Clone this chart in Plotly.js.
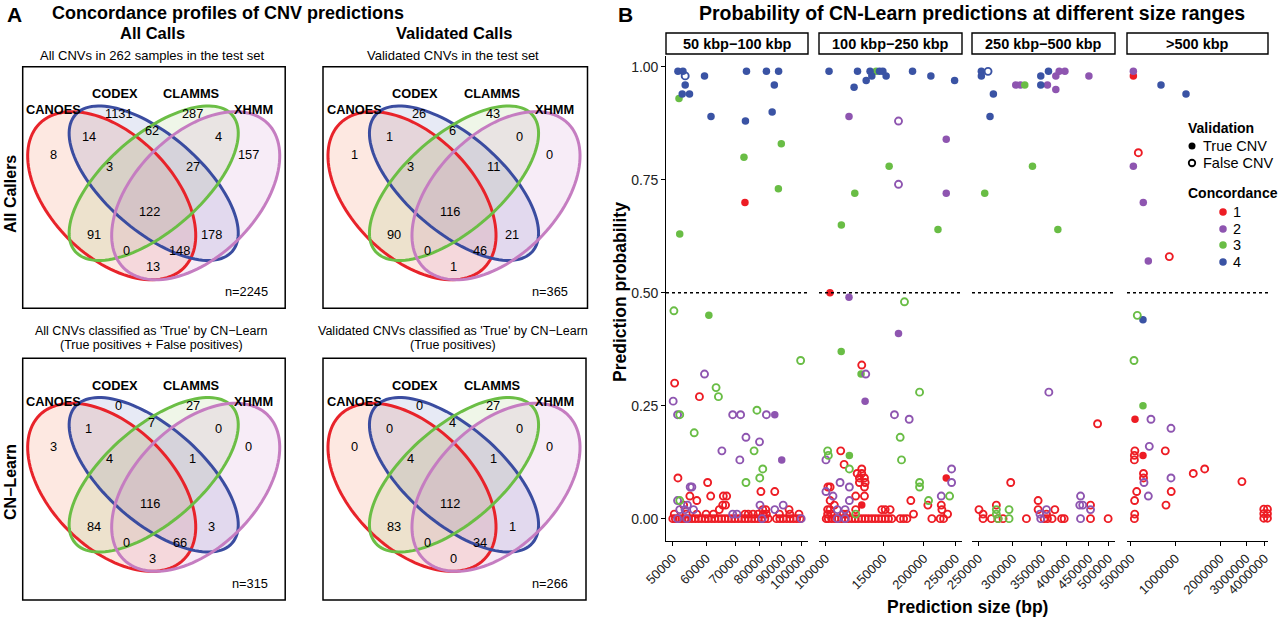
<!DOCTYPE html>
<html>
<head>
<meta charset="utf-8">
<script src="https://cdn.plot.ly/plotly-3.0.1.min.js"></script>
<style>
  html, body { margin: 0; padding: 0; background: #fff; }
  #chart { width: 1280px; height: 621px; }
</style>
</head>
<body>
<div id="chart"></div>
<script>
// ---------------- Panel A: four-caller concordance (Venn region counts) ----------------
const callers = ['CANOES', 'CODEX', 'CLAMMS', 'XHMM'];
// Region order: A, B, C, D, AB, BC, CD, ABC, BCD, ABCD, AC, BD, ACD, ABD, AD
// (A = CANOES, B = CODEX, C = CLAMMS, D = XHMM)
const regionKeys = ['A', 'B', 'C', 'D', 'AB', 'BC', 'CD', 'ABC', 'BCD', 'ABCD', 'AC', 'BD', 'ACD', 'ABD', 'AD'];
const countsAllCalls        = [8, 1131, 287, 157, 14, 62, 4, 3, 27, 122, 91, 178, 0, 148, 13];
const countsValidatedCalls  = [1, 26, 43, 0, 1, 6, 0, 3, 11, 116, 90, 21, 0, 46, 1];
const countsCNLearnAll      = [3, 0, 27, 0, 1, 7, 0, 4, 1, 116, 84, 3, 0, 66, 3];
const countsCNLearnValid    = [0, 0, 27, 0, 0, 4, 0, 4, 1, 112, 83, 1, 0, 34, 0];

const vennTitles = ['All Calls', 'Validated Calls', '', ''];
const vennSubtitles = [
  ['All CNVs in 262 samples in the test set'],
  ['Validated CNVs in the test set'],
  ['All CNVs classified as \'True\' by CN\u2212Learn', '(True positives + False positives)'],
  ['Validated CNVs classified as \'True\' by CN\u2212Learn', '(True positives)']
];
const rowLabels = ['All Callers', 'CN\u2212Learn'];

// ---------------- Panel B: CN-Learn prediction probability by size range ----------------
// each row: [size (bp), prediction probability, concordance (1-4), validated (1 = true CNV, 0 = false CNV)]
const calls50to100kb = [
  [51500,0.99,4,1],[52900,0.99,4,1],[53550,0.98,4,0],[53550,0.96,4,1],[52700,0.94,4,1],[54800,0.94,4,1],
  [59400,0.98,4,1],[61500,0.89,4,1],[74400,0.99,4,1],[74000,0.88,4,1],[82800,0.99,4,1],[88400,0.99,4,1],
  [86400,0.96,4,1],[85400,0.90,4,1],
  [51800,0.93,3,1],[73400,0.80,3,1],[89700,0.83,3,1],[88300,0.73,3,1],[73800,0.70,1,1],[52000,0.63,3,1],
  [50400,0.46,3,0],[60800,0.45,3,1],[99500,0.35,3,0],
  [59400,0.32,2,0],[50600,0.30,1,0],[63200,0.29,3,0],[64000,0.27,3,0],[57800,0.27,1,0],[50200,0.26,2,0],
  [51400,0.23,2,0],[52000,0.23,3,0],[69100,0.23,2,0],[72100,0.23,2,0],[78700,0.24,3,0],[82800,0.23,2,0],
  [86600,0.23,2,1],[56200,0.19,3,0],[74200,0.18,2,0],[79800,0.17,2,0],[77500,0.15,3,0],[65200,0.15,2,0],
  [71800,0.13,2,0],[89900,0.13,2,1],[81200,0.11,3,0],[79900,0.09,3,0],[51500,0.09,1,0],[74200,0.08,3,0],
  [60400,0.08,1,0],[55000,0.07,2,0],[55500,0.07,2,0],[54900,0.05,1,0],[61400,0.05,1,0],[65700,0.05,1,0],
  [66900,0.05,1,0],[80400,0.06,1,0],[86600,0.06,1,0],[65500,0.03,1,0],[66500,0.03,1,0],[57000,0.04,1,0],
  [51400,0.04,2,0],[52000,0.04,3,0],[53100,0.03,1,0],[54200,0.03,2,0],[82500,0.02,1,0],[81200,0.02,1,0],
  [80000,0.03,2,0],[90600,0.03,2,0],[93500,0.02,1,0],[64300,0.02,1,0],[69100,0.01,2,0],[70700,0.01,2,0],
  [88800,0.01,1,0],[93900,0.01,1,0],[98600,0.01,1,0],[99800,0.00,2,0],
  [50500,0.01,1,0],[53850,0.01,1,0],[57000,0.01,1,0],[59900,0.01,1,0],[62300,0.01,1,0],[73800,0.01,1,0],
  [75100,0.01,1,0],[77100,0.01,1,0],[79200,0.01,1,0],[81400,0.01,1,0],[82800,0.01,1,0],
  [52000,0.02,2,0],[53500,0.02,2,0],[56000,0.02,2,0],[51400,0.00,2,0],[54000,0.00,2,0],[80900,0.00,2,0],
  [86600,0.02,2,0],
  [50100,0,1,0],[50800,0,1,0],[51700,0,1,0],[52600,0,1,0],[53500,0,1,0],[54500,0,1,0],[55500,0,1,0],
  [56500,0,1,0],[57500,0,1,0],[58500,0,1,0],[59600,0,1,0],[60600,0,1,0],[61700,0,1,0],[62800,0,1,0],
  [64000,0,1,0],[65100,0,1,0],[66300,0,1,0],[67500,0,1,0],[68700,0,1,0],[69900,0,1,0],[71200,0,1,0],
  [72500,0,1,0],[73800,0,1,0],[75100,0,1,0],[76500,0,1,0],[77800,0,1,0],[79200,0,1,0],[80700,0,1,0],
  [82100,0,1,0],[83600,0,1,0],[87400,0,1,0],[89000,0,1,0],[90600,0,1,0],[92300,0,1,0],[94000,0,1,0],
  [95700,0,1,0],[97400,0,1,0],[99200,0,1,0]
];

const calls100to250kb = [
  [102500,0.99,4,1],[125300,0.99,4,1],[136900,0.99,4,1],[142900,0.99,3,1],[146300,0.99,4,1],[149800,0.99,4,1],
  [184700,0.99,4,1],[210200,0.98,4,1],[248500,0.97,4,1],[133200,0.97,4,1],[138600,0.98,4,1],[153300,0.98,4,1],
  [122300,0.955,4,1],[118000,0.89,2,1],[167300,0.88,2,0],[234300,0.84,2,1],[156600,0.78,3,1],[167300,0.74,2,0],
  [122900,0.72,3,1],[234300,0.72,2,1],[111800,0.65,3,1],[221000,0.64,3,1],[103200,0.50,1,1],[118000,0.49,2,1],
  [174500,0.48,3,0],[167300,0.41,2,1],[111700,0.37,3,1],[129100,0.34,1,0],[128500,0.32,3,1],[132800,0.32,2,0],
  [194100,0.28,3,0],[132200,0.26,2,1],[162600,0.23,2,0],[180400,0.22,2,0],[169300,0.18,3,0],[101500,0.15,3,0],
  [102000,0.14,3,0],[100300,0.13,2,0],[111300,0.15,1,0],[118300,0.14,3,1],[170900,0.13,3,0],[114000,0.12,1,0],
  [118300,0.11,3,0],[129100,0.11,1,0],[129100,0.10,1,0],[125000,0.10,1,0],[127000,0.09,1,0],[131600,0.09,1,0],
  [127000,0.08,1,0],[132200,0.08,1,0],[131600,0.07,1,0],[243300,0.11,2,0],[234300,0.09,1,1],[243300,0.08,2,0],
  [194100,0.08,3,0],[194100,0.07,3,0],[110800,0.08,2,0],[118300,0.07,2,0],[103300,0.07,1,0],[101700,0.07,1,0],
  [100300,0.06,2,0],[105400,0.05,2,0],[123700,0.05,1,0],[131600,0.05,1,0],[118300,0.04,2,0],[103300,0.04,1,0],
  [129100,0.03,1,1],[106400,0.03,1,0],[182500,0.04,1,0],[206800,0.04,3,0],[226200,0.05,2,0],[239900,0.05,3,0],
  [226200,0.03,1,0],[205800,0.03,1,0],[227200,0.02,1,0],[236500,0.01,1,0],[186000,0.01,1,0],[123700,0.01,3,0],
  [101500,0.02,1,0],[103200,0.02,1,0],[108700,0.02,2,0],[114800,0.02,2,0],[123700,0.02,1,0],[148700,0.02,1,0],
  [152300,0.02,1,0],[157700,0.02,1,0],[101500,0.01,1,0],[104000,0.01,1,0],[113400,0.01,1,0],[116100,0.01,1,0],
  [108700,0,2,0],[114800,0,2,0],
  [100500,0,1,0],[102000,0,1,0],[104400,0,1,0],[106900,0,1,0],[109500,0,1,0],[112100,0,1,0],[114800,0,1,0],
  [117500,0,1,0],[120300,0,1,0],[123200,0,1,0],[126100,0,1,0],[129100,0,1,0],[132200,0,1,0],[135300,0,1,0],
  [138600,0,1,0],[141900,0,1,0],[145300,0,1,0],[148700,0,1,0],[152300,0,1,0],[155900,0,1,0],[159600,0,1,0],
  [169300,0,1,0],[173400,0,1,0],[177500,0,1,0],[211700,0,1,0],[224500,0,1,0],[229900,0,1,0]
];

const calls250to500kb = [
  [253900,0.99,4,1],[253900,0.98,4,1],[263100,0.99,4,0],[270700,0.94,4,1],[265900,0.89,4,1],[305000,0.96,2,1],
  [312700,0.96,2,1],[320000,0.96,3,1],[348500,0.98,4,1],[348500,0.96,4,1],[361100,0.96,2,1],[363100,0.99,4,1],
  [377600,0.98,2,1],[384400,0.99,2,1],[396300,0.99,2,1],[377600,0.95,2,1],[450400,0.98,2,1],[333400,0.78,3,1],
  [258500,0.72,3,1],[381700,0.64,3,1],
  [363800,0.28,2,0],[471700,0.21,1,0],[296900,0.08,1,0],[343600,0.04,1,0],[430800,0.05,2,0],[429000,0.03,2,0],
  [435800,0.03,2,0],[454300,0.03,1,0],[454300,0.02,2,0],[250700,0.02,1,0],[275000,0.03,1,0],[275000,0.02,3,0],
  [275000,0.01,3,0],[294300,0.02,3,0],[343600,0.02,1,0],[359300,0.02,2,0],[375600,0.02,1,0],[256200,0.01,1,0],
  [347000,0.01,2,0],[359300,0.01,1,0],
  [256200,0,1,0],[267800,0,1,0],[277500,0,1,0],[277500,0,3,0],[285000,0,1,0],[294300,0,3,0],[322800,0,1,0],
  [348500,0,2,0],[354800,0,1,0],[361100,0,1,0],[370200,0,1,0],[389400,0,1,0],[394800,0,1,0],[430800,0,2,0],
  [454300,0,1,0],[499000,0,1,0]
];

const callsAbove500kb = [
  [518700,0.99,2,1],[518700,0.98,1,1],[797500,0.96,4,1],[1177000,0.94,4,1],[560600,0.81,1,0],[518700,0.78,2,1],
  [605400,0.70,2,1],[907800,0.58,1,0],[654800,0.57,2,1],
  [551500,0.45,3,0],[602600,0.44,4,1],[524000,0.35,3,0],[602600,0.25,3,1],[532200,0.22,1,1],[682300,0.22,2,0],
  [931800,0.20,2,0],[664800,0.16,2,0],[852600,0.15,1,0],[531000,0.15,1,0],[527000,0.14,1,0],[527000,0.13,1,0],
  [602600,0.14,1,1],[1318000,0.10,1,0],[1574000,0.11,1,0],[607300,0.10,1,0],[607300,0.09,1,0],[612000,0.08,2,0],
  [931800,0.09,2,0],[2810000,0.082,1,0],[546400,0.06,1,0],[935000,0.06,1,0],[654800,0.05,2,0],[529000,0.04,1,0],
  [862000,0.03,1,0],[530000,0.01,1,0],[527000,0.00,1,0],
  [3950000,0.021,1,0],[4180000,0.021,1,0],[3950000,0.011,1,0],[4180000,0.011,1,0],[3950000,0.001,1,0],[4180000,0.001,1,0]
];

const facetLabels = ['50 kbp\u2212100 kbp', '100 kbp\u2212250 kbp', '250 kbp\u2212500 kbp', '>500 kbp'];
const facetTicks = [
  [50000, 60000, 70000, 80000, 90000, 100000],
  [100000, 150000, 200000, 250000],
  [250000, 300000, 350000, 400000, 450000, 500000],
  [500000, 1000000, 2000000, 3000000, 4000000]
];
const probTicks = [0, 0.25, 0.5, 0.75, 1];
const probTickText = ['0.00', '0.25', '0.50', '0.75', '1.00'];
const concordanceLevels = [1, 2, 3, 4];
const validationLevels = [{v: 1, name: 'True CNV'}, {v: 0, name: 'False CNV'}];

// ---------------- styling ----------------
const W = 1280, H = 621;
const FONT = 'Liberation Sans, Arial, Helvetica, sans-serif';
const concColors = {1: '#ED1C24', 2: '#8E55B0', 3: '#69BD45', 4: '#3A53A4'};
const vennColors = {
  CANOES: {line: '#E8232A', fill: 'rgba(240,110,70,0.16)'},
  CODEX:  {line: '#3A4CA0', fill: 'rgba(60,80,170,0.12)'},
  CLAMMS: {line: '#6BBE45', fill: 'rgba(130,185,80,0.13)'},
  XHMM:   {line: '#C57DC1', fill: 'rgba(190,110,190,0.13)'}
};

// facet geometry (pixels) and log10 axis ranges
const facetPx = [[666, 808], [819, 962], [972, 1115], [1127, 1268]];
const facetRanges = [[4.684, 5.015], [4.98, 5.418], [5.383, 5.714], [5.672, 6.625]];
const plotTop = 56, plotBottom = 541;
const stripTop = 33, stripBottom = 54;
const facetData = [calls50to100kb, calls100to250kb, calls250to500kb, callsAbove500kb];

const px = x => x / W;
const py = y => 1 - y / H;

const data = [];
const layout = {
  width: W, height: H,
  margin: {l: 0, r: 0, t: 0, b: 0},
  paper_bgcolor: '#fff', plot_bgcolor: 'rgba(0,0,0,0)',
  showlegend: false,
  font: {family: FONT, color: '#000'},
  shapes: [], annotations: []
};

// full-figure overlay axis in pixel units for the Venn diagrams, strips and legend
layout.xaxis5 = {domain: [0, 1], range: [0, W], visible: false, fixedrange: true, anchor: 'y5'};
layout.yaxis5 = {domain: [0, 1], range: [H, 0], visible: false, fixedrange: true, anchor: 'x5'};
const P = {xref: 'x5', yref: 'y5'};

function text(x, y, t, opts = {}) {
  layout.annotations.push(Object.assign({
    x, y, text: t, showarrow: false, xanchor: 'center', yanchor: 'middle',
    font: {family: FONT, size: opts.size || 12.5, color: opts.color || '#000'}
  }, P, opts.extra || {}));
}

// ---------- Panel B facets ----------
facetData.forEach((rows, i) => {
  const n = i + 1;
  const xk = 'xaxis' + (n === 1 ? '' : n), yk = 'yaxis' + (n === 1 ? '' : n);
  const xa = 'x' + (n === 1 ? '' : n), ya = 'y' + (n === 1 ? '' : n);
  layout[xk] = {
    domain: [px(facetPx[i][0]), px(facetPx[i][1])],
    type: 'log', range: facetRanges[i], anchor: ya,
    showline: true, linecolor: '#000', linewidth: 1.3, mirror: false,
    ticks: 'outside', ticklen: 3.5, tickwidth: 1, tickcolor: '#000',
    tickvals: facetTicks[i], ticktext: facetTicks[i].map(String), tickangle: -45,
    tickfont: {family: FONT, size: 13, color: '#222'},
    showgrid: false, zeroline: false, fixedrange: true
  };
  layout[yk] = {
    domain: [py(plotBottom), py(plotTop)], range: [-0.0495, 1.024], anchor: xa,
    showline: n === 1, linecolor: '#000', linewidth: 1.3,
    ticks: n === 1 ? 'outside' : '', ticklen: 3.5, tickwidth: 1, tickcolor: '#000',
    tickvals: probTicks, ticktext: probTickText, showticklabels: n === 1,
    tickfont: {family: FONT, size: 14, color: '#222'},
    showgrid: false, zeroline: false, fixedrange: true
  };
  // decision threshold
  layout.shapes.push({type: 'line', xref: xa + ' domain', x0: 0, x1: 1, yref: ya, y0: 0.5, y1: 0.5,
    line: {color: '#000', width: 1.6, dash: 'dot'}});
  // strip
  layout.shapes.push(Object.assign({type: 'rect', x0: facetPx[i][0], x1: facetPx[i][1], y0: stripTop, y1: stripBottom,
    line: {color: '#000', width: 1.4}, fillcolor: '#fff'}, P));
  text((facetPx[i][0] + facetPx[i][1]) / 2, (stripTop + stripBottom) / 2 + 0.5, '<b>' + facetLabels[i] + '</b>', {size: 14.5});

  validationLevels.forEach(vl => {
    concordanceLevels.forEach(c => {
      const sel = rows.filter(r => r[2] === c && r[3] === vl.v);
      if (!sel.length) return;
      data.push({
        type: 'scatter', mode: 'markers', xaxis: xa, yaxis: ya, cliponaxis: false,
        x: sel.map(r => r[0]), y: sel.map(r => r[1]),
        marker: vl.v === 1
          ? {symbol: 'circle', size: 7.5, color: concColors[c], line: {width: 0}}
          : {symbol: 'circle-open', size: 7, color: concColors[c], line: {width: 1.9, color: concColors[c]}},
        hoverinfo: 'skip'
      });
    });
  });
});

// Panel B titles
text(625, 14, '<b>B</b>', {size: 21});
text(972, 13, '<b>Probability of CN-Learn predictions at different size ranges</b>', {size: 19.5});
text(620, 292, '<b>Prediction probability</b>', {size: 17.5, extra: {textangle: -90}});
text(967, 607, '<b>Prediction size (bp)</b>', {size: 17.5});

// Legend
text(1186, 128, '<b>Validation</b>', {size: 14, extra: {xanchor: 'left'}});
text(1201, 146, 'True CNV', {size: 14.5, extra: {xanchor: 'left'}});
text(1201, 163, 'False CNV', {size: 14.5, extra: {xanchor: 'left'}});
text(1186, 193, '<b>Concordance</b>', {size: 14, extra: {xanchor: 'left'}});
const legendConcY = [212, 229, 245, 262];
concordanceLevels.forEach((c, k) => text(1231, legendConcY[k], String(c), {size: 14.5, extra: {xanchor: 'left'}}));
data.push({type: 'scatter', mode: 'markers', xaxis: 'x5', yaxis: 'y5', cliponaxis: false, hoverinfo: 'skip',
  x: [1192], y: [146], marker: {symbol: 'circle', size: 7, color: '#000'}});
data.push({type: 'scatter', mode: 'markers', xaxis: 'x5', yaxis: 'y5', cliponaxis: false, hoverinfo: 'skip',
  x: [1192], y: [163], marker: {symbol: 'circle-open', size: 6.5, color: '#000', line: {width: 1.8, color: '#000'}}});
data.push({type: 'scatter', mode: 'markers', xaxis: 'x5', yaxis: 'y5', cliponaxis: false, hoverinfo: 'skip',
  x: concordanceLevels.map(() => 1223), y: legendConcY,
  marker: {symbol: 'circle', size: 7.5, color: concordanceLevels.map(c => concColors[c])}});

// ---------- Panel A: Venn diagrams ----------
text(14, 14, '<b>A</b>', {size: 21});
text(228, 13, '<b>Concordance profiles of CNV predictions</b>', {size: 18});
text(10, 194, '<b>' + rowLabels[0] + '</b>', {size: 16, extra: {textangle: -90}});
text(10, 482, '<b>' + rowLabels[1] + '</b>', {size: 16, extra: {textangle: -90}});

const boxes = [
  {x: 22.7, y: 66.7, w: 262.5, h: 241.5, counts: countsAllCalls},
  {x: 323, y: 66.7, w: 264.5, h: 241.5, counts: countsValidatedCalls},
  {x: 22.7, y: 358.3, w: 262.5, h: 241.7, counts: countsCNLearnAll},
  {x: 323, y: 358.3, w: 263, h: 241.7, counts: countsCNLearnValid}
];
// ellipse geometry relative to a box's top-left corner
const ellipses = {
  CANOES: {cx: 89, cy: 129, a: 102, b: 61, deg: 45},
  CODEX:  {cx: 131, cy: 116.5, a: 104, b: 48, deg: 41},
  CLAMMS: {cx: 131, cy: 116.5, a: 104, b: 48, deg: -41},
  XHMM:   {cx: 173, cy: 129, a: 102, b: 61, deg: -45}
};
const callerLabelPos = {CANOES: [31, 43], CODEX: [92, 27], CLAMMS: [169, 27], XHMM: [231, 43]};
const regionPos = {
  A: [31, 88], B: [96, 47], C: [170, 47], D: [226, 88], AB: [66, 70], BC: [129, 64], CD: [196, 70],
  ABC: [87, 100], BCD: [170, 100], ABCD: [127, 145], AC: [71, 168], BD: [189, 168], ACD: [104, 184],
  ABD: [157, 184], AD: [130, 200]
};

function ellipsePath(cx, cy, a, b, deg) {
  const t = deg * Math.PI / 180, c = Math.cos(t), s = Math.sin(t);
  let d = '';
  for (let i = 0; i <= 120; i++) {
    const u = 2 * Math.PI * i / 120;
    const ex = a * Math.cos(u), ey = b * Math.sin(u);
    const x = cx + ex * c - ey * s, y = cy + ex * s + ey * c;
    d += (i ? 'L' : 'M') + x.toFixed(2) + ',' + y.toFixed(2);
  }
  return d + 'Z';
}

boxes.forEach((bx, k) => {
  layout.shapes.push(Object.assign({type: 'rect', x0: bx.x, x1: bx.x + bx.w, y0: bx.y, y1: bx.y + bx.h,
    line: {color: '#000', width: 1.5}, fillcolor: 'rgba(0,0,0,0)'}, P));
  // fills first, outlines on top
  callers.forEach(name => {
    const e = ellipses[name];
    layout.shapes.push(Object.assign({type: 'path', path: ellipsePath(bx.x + e.cx, bx.y + e.cy, e.a, e.b, e.deg),
      fillcolor: vennColors[name].fill, line: {width: 0}}, P));
  });
  callers.forEach(name => {
    const e = ellipses[name];
    layout.shapes.push(Object.assign({type: 'path', path: ellipsePath(bx.x + e.cx, bx.y + e.cy, e.a, e.b, e.deg),
      fillcolor: 'rgba(0,0,0,0)', line: {width: 3, color: vennColors[name].line}}, P));
  });
  callers.forEach(name => {
    const p = callerLabelPos[name];
    text(bx.x + p[0], bx.y + p[1], '<b>' + name + '</b>', {size: 12.8});
  });
  regionKeys.forEach((key, j) => {
    const p = regionPos[key];
    text(bx.x + p[0], bx.y + p[1], String(bx.counts[j]), {size: 12.8});
  });
  const total = bx.counts.reduce((s, v) => s + v, 0);
  text(bx.x + 247, bx.y + 225, 'n=' + total, {size: 12.8, extra: {xanchor: 'right'}});
  const cxm = bx.x + bx.w / 2;
  if (vennTitles[k]) text(cxm - 1, 33, '<b>' + vennTitles[k] + '</b>', {size: 16.5});
  const subs = vennSubtitles[k];
  if (subs.length === 1) {
    text(cxm - 2, 55, subs[0], {size: 13});
  } else {
    text(cxm - 2, 330.5, subs[0], {size: 12.5});
    text(cxm - 2, 344.5, subs[1], {size: 12.5});
  }
});

Plotly.newPlot('chart', data, layout, {staticPlot: true, displayModeBar: false});
</script>
</body>
</html>
